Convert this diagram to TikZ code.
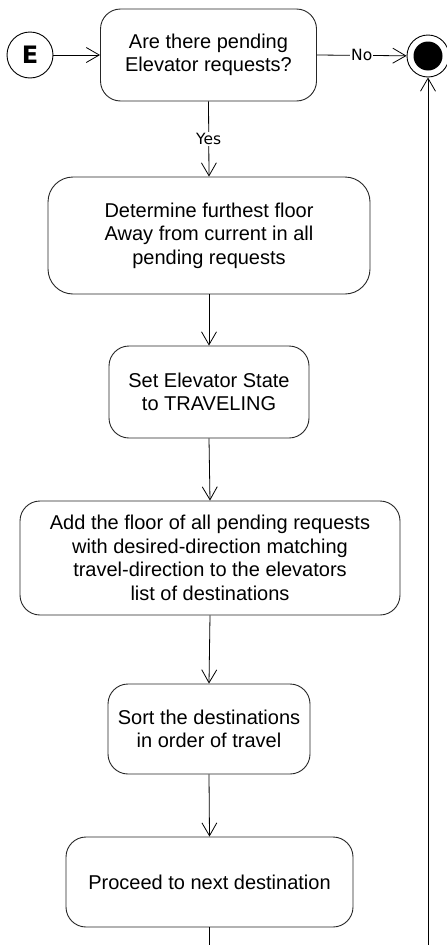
\documentclass[tikz,border=0pt]{standalone}
\usepackage{fontspec}
\setmainfont{Liberation Sans}
\newfontfamily\labelfont{DejaVu Sans}
\usetikzlibrary{arrows.meta}
\begin{document}
\begin{tikzpicture}[x=1pt,y=-1pt,
  action/.style={draw=black!85, line width=0.9pt, rounded corners=20pt, fill=white,
    align=center, inner sep=0pt, font=\fontsize{20}{23.5}\selectfont},
  flow/.style={draw=black, line width=0.8pt, -{Straight Barb[length=13pt,width=15pt,line width=0.8pt]}},
  plain/.style={draw=black, line width=0.8pt},
  guard/.style={fill=white, inner sep=1pt, font=\labelfont\fontsize{15.5}{17}\selectfont}]
  \useasboundingbox (0,0) rectangle (447,945);

  % start connector and final node
  \node[draw=black, line width=0.9pt, circle, minimum size=46pt, inner sep=0pt,
        font=\labelfont\bfseries\fontsize{24}{26}\selectfont] (start) at (30,55) {E};
  \node[draw=black, line width=0.9pt, circle, minimum size=42pt, inner sep=0pt] (stop) at (428,56) {};
  \fill (stop.center) circle (14.5pt);

  % actions
  \node[action, minimum width=216pt, minimum height=92pt] (ask) at (208.5,55)
    {Are there pending\\Elevator requests?};
  \node[action, minimum width=322pt, minimum height=117pt, rounded corners=25pt] (far) at (209,235.5)
    {Determine furthest floor\\Away from current in all\\pending requests};
  \node[action, minimum width=200pt, minimum height=92pt] (state) at (209,392)
    {Set Elevator State\\to TRAVELING};
  \node[action, minimum width=380pt, minimum height=114pt] (add) at (210,558)
    {Add the floor of all pending requests\\with desired-direction matching\\travel-direction to the elevators\\list of destinations};
  \node[action, minimum width=202pt, minimum height=90pt] (sort) at (209,729)
    {Sort the destinations\\in order of travel};
  \node[action, minimum width=287pt, minimum height=90pt] (next) at (209.5,882)
    {Proceed to next destination};

  \coordinate (loopout) at (209.5,945);
  \coordinate (loopin) at (428,945);

  % connectors
  \draw[flow] (start) -- (ask);
  \draw[flow] (ask.east) -- node[guard] {No} (stop);
  \draw[flow] (ask.south) -- node[guard] {Yes} (far.north);
  \draw[flow] (far.south) -- (state.north);
  \draw[flow] (state.south) -- (add.north);
  \draw[flow] (add.south) -- (sort.north);
  \draw[flow] (sort.south) -- (next.north);
  \draw[plain] (next.south) -- (loopout);
  \draw[flow] (loopin) -- (stop.south);
\end{tikzpicture}
\end{document}
